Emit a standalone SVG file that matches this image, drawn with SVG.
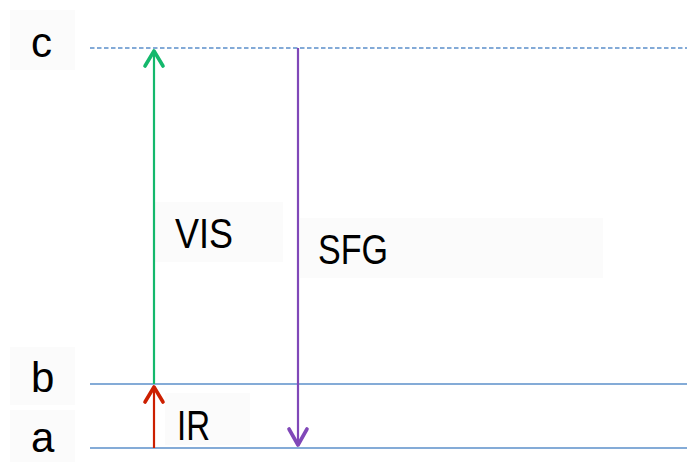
<svg xmlns="http://www.w3.org/2000/svg" width="687" height="462" viewBox="0 0 687 462">
  <style>
    .lbl { fill: #000; font-family: "Liberation Sans", Arial, sans-serif; font-size: 42px; }
    .box { fill: #fbfbfb; }
    .level { stroke: #5b8fca; stroke-width: 1.4; fill: none; }
    .shaft { stroke-width: 2.2; fill: none; }
    .head { stroke-width: 3.6; fill: none; stroke-linecap: round; stroke-linejoin: round; }
  </style>
  <rect width="687" height="462" fill="#fff"/>

  <!-- energy levels -->
  <g id="levels">
    <line class="level" x1="90" y1="48" x2="687" y2="48" stroke-dasharray="4.5 2.5"/>
    <line class="level" x1="90" y1="384" x2="687" y2="384"/>
    <line class="level" x1="90" y1="448" x2="687" y2="448"/>
  </g>

  <!-- level labels -->
  <g id="label-c">
    <rect class="box" x="10" y="10" width="65" height="60"/>
    <text class="lbl" x="31" y="57">c</text>
  </g>
  <g id="label-b">
    <rect class="box" x="10" y="347" width="65" height="58"/>
    <text class="lbl" x="31" y="392">b</text>
  </g>
  <g id="label-a">
    <rect class="box" x="10" y="410" width="65" height="52"/>
    <text class="lbl" x="31" y="452" font-size="40">a</text>
  </g>

  <!-- transition labels -->
  <g id="label-vis">
    <rect class="box" x="155" y="202" width="128" height="60"/>
    <text class="lbl" x="175" y="248" textLength="58" lengthAdjust="spacingAndGlyphs">VIS</text>
  </g>
  <g id="label-sfg">
    <rect class="box" x="300" y="218" width="303" height="60"/>
    <text class="lbl" x="318" y="264" textLength="70" lengthAdjust="spacingAndGlyphs">SFG</text>
  </g>
  <g id="label-ir">
    <rect class="box" x="165" y="393" width="85" height="52"/>
    <text class="lbl" x="177" y="440" textLength="33" lengthAdjust="spacingAndGlyphs">IR</text>
  </g>

  <!-- transitions -->
  <g id="connectors">
    <g id="ir-arrow" stroke="#cc1f00">
      <line class="shaft" x1="154" y1="448" x2="154" y2="387"/>
      <polyline class="head" points="145,402 154,387 163,402"/>
    </g>
    <g id="vis-arrow" stroke="#14b86c">
      <line class="shaft" x1="154" y1="384" x2="154" y2="51"/>
      <polyline class="head" points="145,66 154,51 163,66"/>
    </g>
    <g id="sfg-arrow" stroke="#8048b8">
      <line class="shaft" x1="298" y1="48" x2="298" y2="445"/>
      <polyline class="head" points="289,429 298,445 307,429"/>
    </g>
  </g>
</svg>
